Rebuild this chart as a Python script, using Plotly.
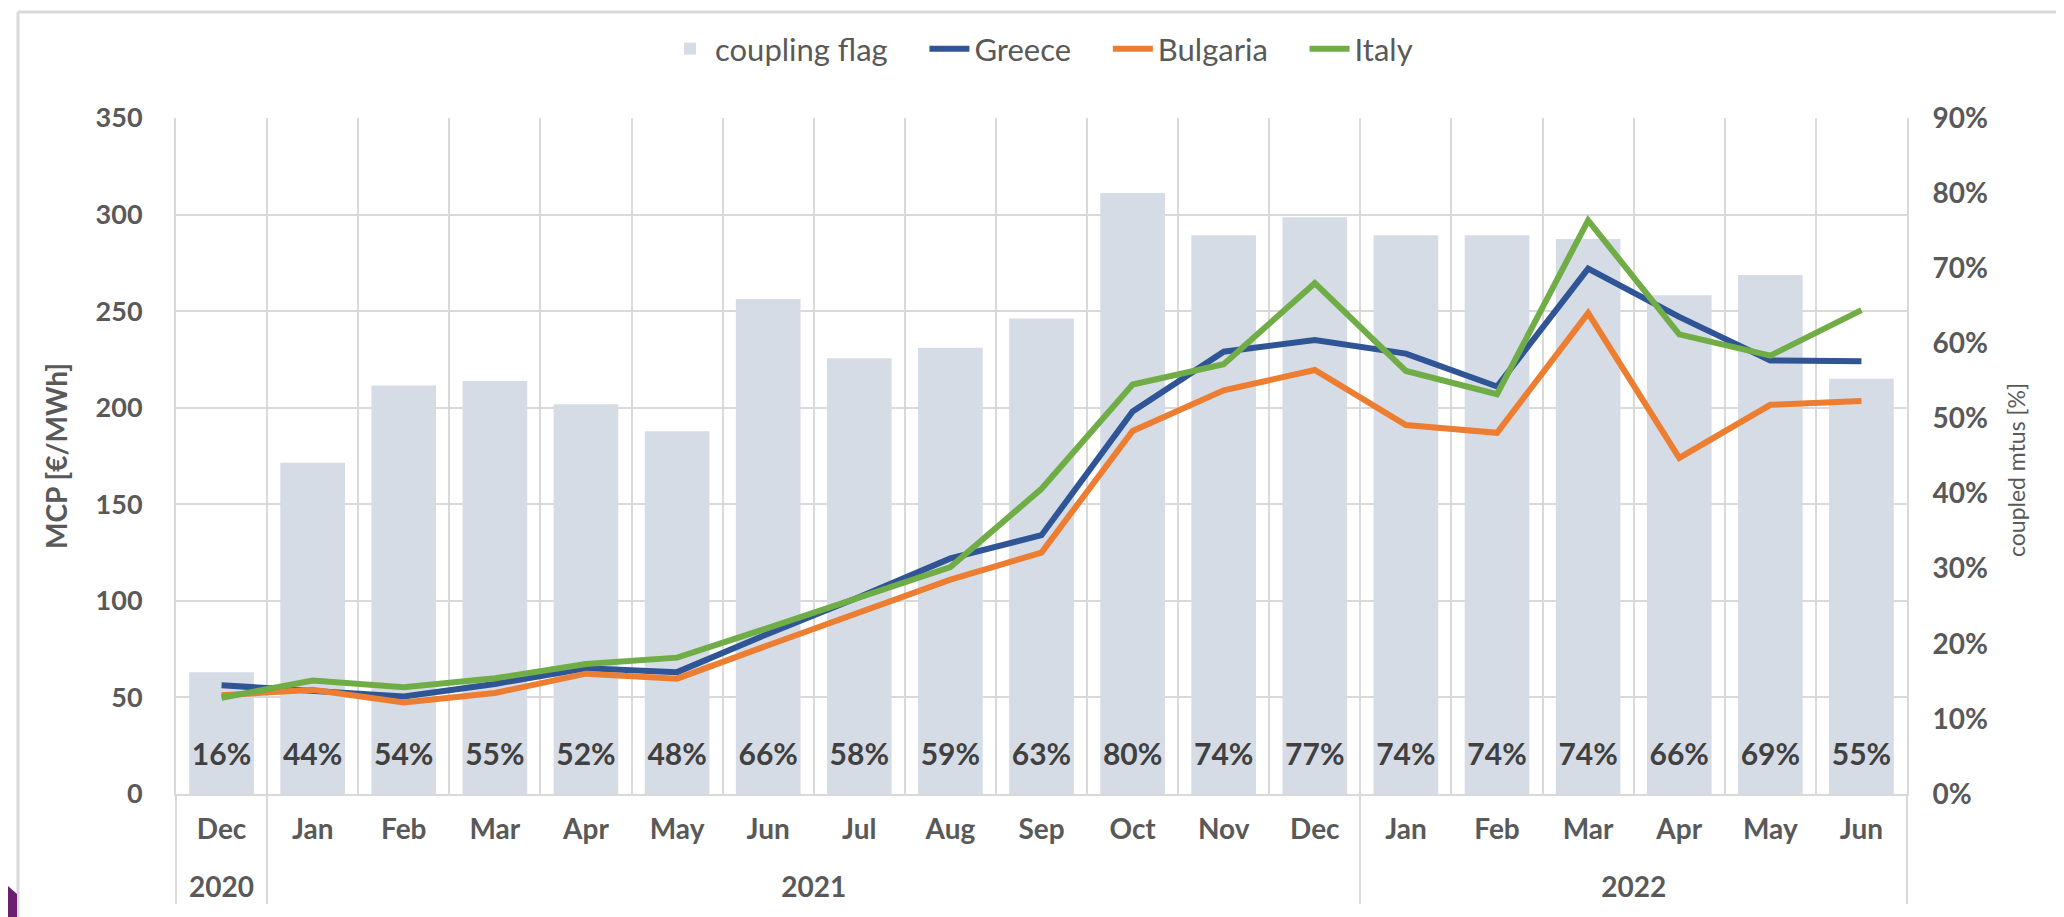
import plotly.graph_objects as go

months = ["Dec", "Jan", "Feb", "Mar", "Apr", "May", "Jun", "Jul", "Aug", "Sep",
          "Oct", "Nov", "Dec", "Jan", "Feb", "Mar", "Apr", "May", "Jun"]
years = ["2020"] + ["2021"] * 12 + ["2022"] * 6

coupling = [0.162, 0.441, 0.544, 0.55, 0.519, 0.483, 0.659, 0.58, 0.594, 0.633,
            0.80, 0.744, 0.768, 0.744, 0.744, 0.739, 0.664, 0.691, 0.553]
greece = [56.3, 53.2, 50.5, 57, 65.1, 63.1, 83, 102, 122, 134,
          198, 229, 235, 228, 211, 272, 247, 224.5, 224]
bulgaria = [51.1, 54, 47.4, 52.3, 62.3, 59.7, 77, 94, 111, 125,
            188, 209, 219.5, 191, 187, 249, 174, 201.5, 203.5]
italy = [49.8, 58.8, 55.3, 59.9, 67.3, 70.6, 86, 102, 117.5, 158,
         212, 222.5, 264.5, 219, 207, 297, 238, 227, 250.5]

W, H = 2064, 917
ML, MR, MT, MB = 168, 165, 110, 131
PW, PH = W - ML - MR, H - MT - MB


def px(x):
    return (x - ML) / PW


def py(y):
    return (H - MB - y) / PH


FONT = "Lato"
GRID = "#D9D9D9"
TXT = "#595959"
PCT_MAX = 0.9
LABEL_Y = PCT_MAX * 37 / PH   # bar labels sit ~37 px above the baseline
TICK = 28

# keep the two "Dec" categories distinct (zero-width marker); an extra
# (empty) line under each month lowers the year row, as in the original
month_labels = []
seen = set()
for y_, m in zip(years, months):
    tag = "\u200b" if (m in seen and y_ != "2020") else ""
    seen.add(m)
    month_labels.append(f"<span style='font-size:{TICK}px'>{m}{tag}</span><br> ")
year_labels = [f"<span style='font-size:{TICK}px'>{y_}</span>" for y_ in years]

x = [year_labels, month_labels]

NB = "\u00a0"
fig = go.Figure()
fig.add_trace(go.Bar(
    x=x, y=coupling, name="coupling flag" + NB * 4, yaxis="y",
    marker=dict(color="#D6DCE5", line=dict(width=0)),
    hovertemplate="%{y:.0%}<extra></extra>",
))
fig.add_trace(go.Scatter(
    x=x, y=[LABEL_Y] * len(coupling), yaxis="y", mode="text",
    text=[f"{v:.0%}" for v in coupling], textposition="middle center",
    textfont=dict(family=FONT, size=30, color="#404040", weight="bold"),
    showlegend=False, hoverinfo="skip",
))
for name, vals, col in [("Greece" + NB * 4, greece, "#2F5597"),
                        ("Bulgaria" + NB * 4, bulgaria, "#ED7D31"),
                        ("Italy", italy, "#70AD47")]:
    fig.add_trace(go.Scatter(
        x=x, y=vals, name=name, yaxis="y2", mode="lines",
        line=dict(color=col, width=6),
    ))

fig.update_layout(
    width=W, height=H,
    margin=dict(l=ML, r=MR, t=MT, b=MB),
    paper_bgcolor="white", plot_bgcolor="white",
    font=dict(family=FONT, color=TXT),
    bargap=0.29,
    showlegend=True,
    legend=dict(orientation="h", x=0.5, xanchor="center", y=py(41), yanchor="middle",
                font=dict(family=FONT, size=31, color=TXT), traceorder="normal",
                itemwidth=40),
    xaxis=dict(
        type="multicategory", range=[-0.5, len(months) - 0.5], autorange=False,
        showgrid=True, gridcolor=GRID, gridwidth=2,
        tickson="boundaries", showdividers=True, dividercolor=GRID, dividerwidth=2,
        tickfont=dict(family=FONT, size=26, color=TXT, weight="bold"),
        showline=True, linecolor=GRID, linewidth=2,
        ticklabelstandoff=12,
    ),
    yaxis=dict(
        side="right", range=[0, PCT_MAX], dtick=0.1, tickformat=".0%",
        showgrid=False, zeroline=False,
        showline=True, linecolor=GRID, linewidth=2,
        tickfont=dict(family=FONT, size=TICK, color=TXT, weight="bold"),
        ticklabelstandoff=18,
    ),
    yaxis2=dict(
        overlaying="y", side="left", range=[0, 350], dtick=50,
        showgrid=True, gridcolor=GRID, gridwidth=2, zeroline=False,
        showline=True, linecolor=GRID, linewidth=2,
        tickfont=dict(family=FONT, size=27, color=TXT, weight="bold"),
        title=dict(text="MCP [€/MWh]", font=dict(family=FONT, size=28, color=TXT, weight="bold"),
                   standoff=20),
        ticklabelstandoff=26,
    ),
    annotations=[
        dict(text="coupled mtus [%]", xref="paper", yref="paper",
             x=px(2008), y=py(462), textangle=-90, showarrow=False,
             xanchor="center", yanchor="middle",
             font=dict(family=FONT, size=23, color=TXT)),
    ],
    shapes=[
        dict(type="line", xref="paper", yref="paper", x0=px(10), x1=px(W + 5),
             y0=py(4), y1=py(4), line=dict(color=GRID, width=3)),
        dict(type="line", xref="paper", yref="paper", x0=px(10), x1=px(10),
             y0=py(4), y1=py(H + 5), line=dict(color=GRID, width=3)),
        dict(type="path", xref="paper", yref="paper", fillcolor="#6B1F6E",
             line=dict(width=0),
             path=f"M {px(0)},{py(878)} L {px(9)},{py(886)} L {px(9)},{py(H + 5)} "
                  f"L {px(0)},{py(H + 5)} Z"),
    ],
)

fig.write_html("out.html")
